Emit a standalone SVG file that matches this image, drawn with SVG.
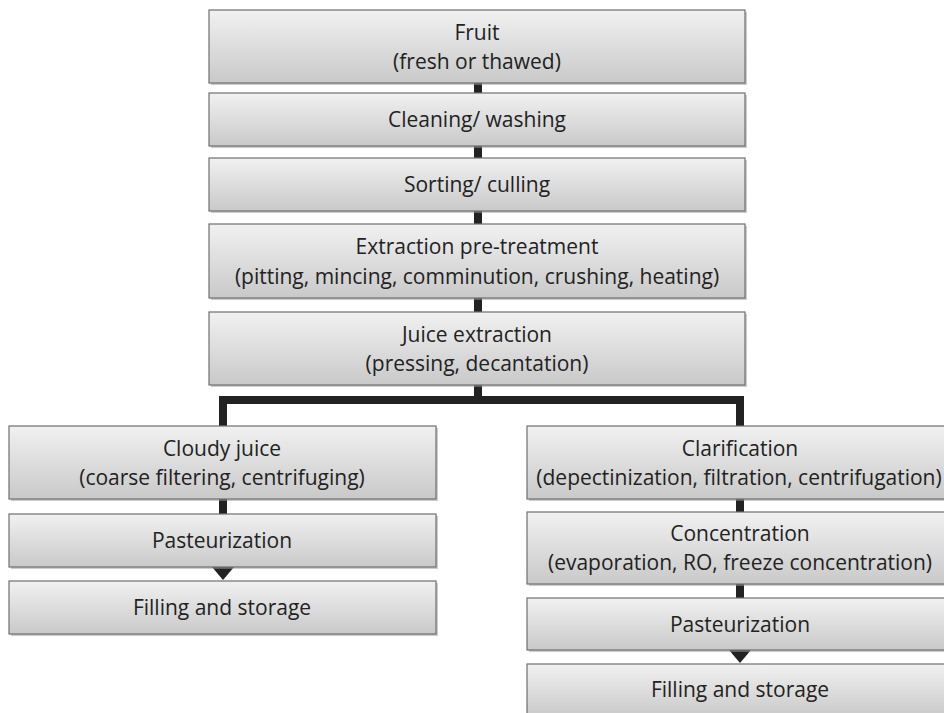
<svg xmlns="http://www.w3.org/2000/svg" width="944" height="713" viewBox="0 0 944 713">
<defs>
<linearGradient id="g" x1="0" y1="0" x2="0" y2="1">
<stop offset="0" stop-color="#f1f1f1"/>
<stop offset="1" stop-color="#c9c9c9"/>
</linearGradient>
<style>
.box{fill:url(#g);stroke:#6f6f6f;stroke-width:1.2}
.sh{fill:#9a9a9a;opacity:0.5}
.t{font-family:"Open Sans","Noto Sans","Liberation Sans",sans-serif;font-size:21px;fill:#222;text-anchor:middle}
.c{stroke:#222;stroke-width:8;fill:none}
.a{fill:#222}
</style>
</defs>
<rect width="944" height="713" fill="#fff"/>
<g id="connectors">
<line class="c" x1="478" y1="83" x2="478" y2="93"/>
<line class="c" x1="478" y1="146" x2="478" y2="158"/>
<line class="c" x1="478" y1="211" x2="478" y2="224"/>
<line class="c" x1="478" y1="298" x2="478" y2="312"/>
<line class="c" x1="478" y1="385" x2="478" y2="400"/>
<polyline class="c" stroke-width="7" points="223,426 223,400 740,400 740,426"/>
<line class="c" x1="223" y1="499" x2="223" y2="514"/>
<line class="c" x1="740" y1="499" x2="740" y2="512"/>
<line class="c" x1="740" y1="584" x2="740" y2="598"/>
<polygon class="a" points="212,567 234,567 223,580"/>
<polygon class="a" points="729,650 751,650 740,663"/>
</g>
<g id="fruit">
<rect class="sh" x="211" y="12" width="536" height="73"/>
<rect class="box" x="209" y="10" width="536" height="73"/>
<text class="t" x="477" y="40">Fruit</text>
<text class="t" x="477" y="69">(fresh or thawed)</text>
</g>
<g id="cleaning">
<rect class="sh" x="211" y="95" width="536" height="53"/>
<rect class="box" x="209" y="93" width="536" height="53"/>
<text class="t" x="477" y="127">Cleaning/ washing</text>
</g>
<g id="sorting">
<rect class="sh" x="211" y="160" width="536" height="53"/>
<rect class="box" x="209" y="158" width="536" height="53"/>
<text class="t" x="477" y="192">Sorting/ culling</text>
</g>
<g id="pretreatment">
<rect class="sh" x="211" y="226" width="536" height="74"/>
<rect class="box" x="209" y="224" width="536" height="74"/>
<text class="t" x="477" y="254">Extraction pre-treatment</text>
<text class="t" x="477" y="284">(pitting, mincing, comminution, crushing, heating)</text>
</g>
<g id="extraction">
<rect class="sh" x="211" y="314" width="536" height="73"/>
<rect class="box" x="209" y="312" width="536" height="73"/>
<text class="t" x="477" y="342">Juice extraction</text>
<text class="t" x="477" y="371">(pressing, decantation)</text>
</g>
<g id="cloudy">
<rect class="sh" x="11" y="428" width="427" height="73"/>
<rect class="box" x="9" y="426" width="427" height="73"/>
<text class="t" x="222" y="456">Cloudy juice</text>
<text class="t" x="222" y="485">(coarse filtering, centrifuging)</text>
</g>
<g id="past-left">
<rect class="sh" x="11" y="516" width="427" height="53"/>
<rect class="box" x="9" y="514" width="427" height="53"/>
<text class="t" x="222" y="548">Pasteurization</text>
</g>
<g id="fill-left">
<rect class="sh" x="11" y="583" width="427" height="53"/>
<rect class="box" x="9" y="581" width="427" height="53"/>
<text class="t" x="222" y="615">Filling and storage</text>
</g>
<g id="clarification">
<rect class="sh" x="529" y="428" width="427" height="73"/>
<rect class="box" x="527" y="426" width="427" height="73"/>
<text class="t" x="740" y="456">Clarification</text>
<text class="t" x="739" y="485">(depectinization, filtration, centrifugation)</text>
</g>
<g id="concentration">
<rect class="sh" x="529" y="514" width="427" height="72"/>
<rect class="box" x="527" y="512" width="427" height="72"/>
<text class="t" x="740" y="541">Concentration</text>
<text class="t" x="740" y="570">(evaporation, RO, freeze concentration)</text>
</g>
<g id="past-right">
<rect class="sh" x="529" y="600" width="427" height="52"/>
<rect class="box" x="527" y="598" width="427" height="52"/>
<text class="t" x="740" y="632">Pasteurization</text>
</g>
<g id="fill-right">
<rect class="sh" x="529" y="666" width="427" height="53"/>
<rect class="box" x="527" y="664" width="427" height="53"/>
<text class="t" x="740" y="697">Filling and storage</text>
</g>
</svg>
